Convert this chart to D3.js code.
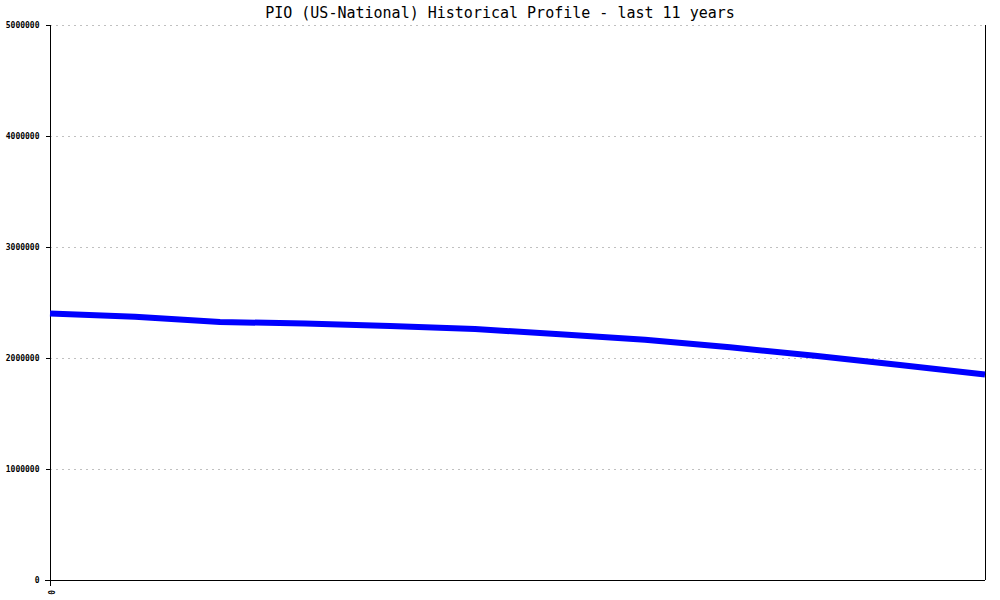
<!DOCTYPE html>
<html>
<head>
<meta charset="utf-8">
<script src="https://cdn.jsdelivr.net/npm/d3@7"></script>
<style>
  body { margin: 0; background: #fff; }
  svg { display: block; }
</style>
</head>
<body>
<svg id="chart" width="1000" height="600"></svg>
<script>
const title = "PIO (US-National) Historical Profile - last 11 years";
const yTicks = [0, 1000000, 2000000, 3000000, 4000000, 5000000];
const xTickLabels = ["0"];
const pointIndex = [0, 1, 2, 3, 4, 5, 6, 7, 8, 9, 10, 11];
const values = [2401000, 2372000, 2324000, 2311000, 2288000, 2261000, 2214000, 2165000, 2096000, 2021000, 1937000, 1851000];

(function () {
const svg = d3.select("#chart");
const mLeft = 50, mRight = 985, mTop = 25, mBottom = 580;

const x = d3.scaleLinear().domain([0, pointIndex.length - 1]).range([mLeft, mRight]);
const y = d3.scaleLinear().domain([0, 5000000]).range([mBottom, mTop]);

// gridlines
svg.append("g").selectAll("line").data(yTicks.filter(d => d > 0)).join("line")
  .attr("x1", mLeft).attr("x2", mRight)
  .attr("y1", d => Math.round(y(d)) + 0.5).attr("y2", d => Math.round(y(d)) + 0.5)
  .attr("stroke", "#c0c0c0").attr("stroke-width", 1)
  .attr("stroke-dasharray", "2,4")
  .attr("shape-rendering", "crispEdges");

// Y axis
const yAxis = d3.axisLeft(y).tickValues(yTicks).tickSize(5).tickPadding(6).tickFormat(d3.format("d"));
const gy = svg.append("g").attr("transform", `translate(${mLeft + 0.5},0)`).call(yAxis);
gy.select(".domain").remove();
gy.selectAll(".tick line").attr("stroke", "#000").attr("shape-rendering", "crispEdges");
gy.selectAll(".tick text")
  .attr("font-family", "DejaVu Sans Mono, monospace")
  .attr("font-size", 8).attr("font-weight", "bold").attr("fill", "#000");
gy.append("line").attr("x1", 0).attr("x2", 0).attr("y1", mTop).attr("y2", mBottom)
  .attr("stroke", "#000").attr("shape-rendering", "crispEdges");

// right border
svg.append("line").attr("x1", mRight + 0.5).attr("x2", mRight + 0.5).attr("y1", mTop).attr("y2", mBottom)
  .attr("stroke", "#000").attr("shape-rendering", "crispEdges");

// X axis
const xAxis = d3.axisBottom(x).tickValues([0]).tickSize(5).tickFormat((d, i) => xTickLabels[i]);
const gx = svg.append("g").attr("transform", `translate(0,${mBottom + 0.5})`).call(xAxis);
gx.select(".domain").remove();
gx.append("line").attr("x1", mLeft - 5).attr("x2", mRight).attr("y1", 0).attr("y2", 0)
  .attr("stroke", "#000").attr("shape-rendering", "crispEdges");
gx.selectAll(".tick line").attr("stroke", "#000").attr("shape-rendering", "crispEdges");
gx.selectAll(".tick text")
  .attr("font-family", "DejaVu Sans Mono, monospace")
  .attr("font-size", 8).attr("font-weight", "bold").attr("fill", "#000")
  .attr("transform", "translate(0,12) rotate(90)")
  .attr("y", 0).attr("dy", "0.32em").attr("text-anchor", "middle");

// line
const line = d3.line().x((d, i) => x(pointIndex[i])).y(d => y(d));
svg.append("path").datum(values)
  .attr("d", line)
  .attr("fill", "none").attr("stroke", "#0000ff").attr("stroke-width", 6)
  .attr("stroke-linejoin", "round");

// title
svg.append("text").attr("x", 500).attr("y", 18).attr("text-anchor", "middle")
  .attr("font-family", "DejaVu Sans Mono, monospace").attr("font-size", 15)
  .attr("fill", "#000").text(title);
})();
</script>
</body>
</html>
